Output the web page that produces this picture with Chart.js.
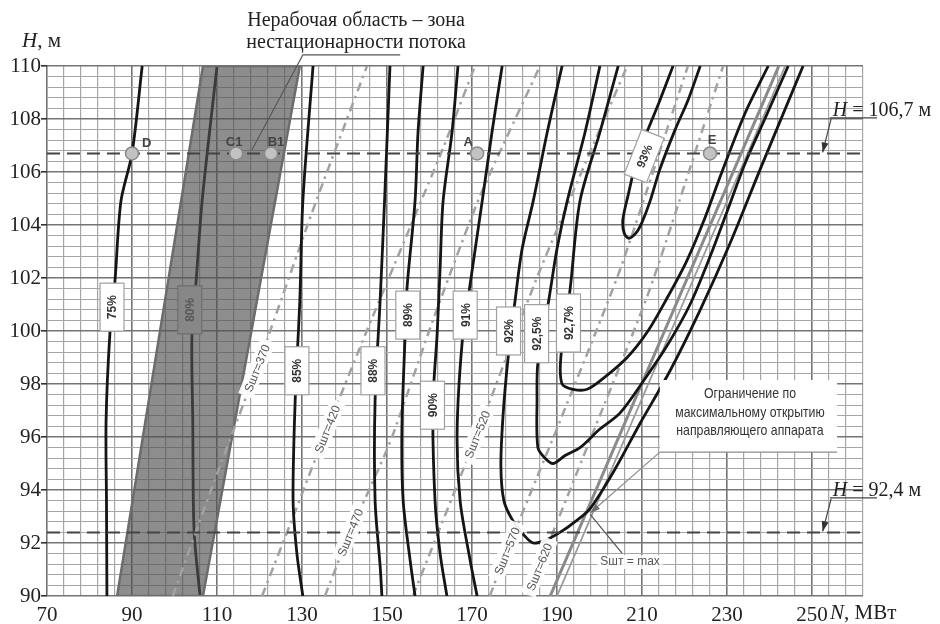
<!DOCTYPE html>
<html>
<head>
<meta charset="utf-8">
<script src="https://cdn.jsdelivr.net/npm/chart.js@4.4.1/dist/chart.umd.min.js"></script>
<style>
  html, body { margin: 0; padding: 0; background: #fff; }
</style>
</head>
<body>
<canvas id="chart" width="940" height="624"></canvas>
<script>
// axes
const xMin = 70, xMax = 262, xStep = 4, xLabelEvery = 20, xLastLabel = 250;
const yMin = 90, yMax = 110, yStep = 0.4, yLabelEvery = 2;

// efficiency contours [N, H]
const eff75 = [[92.4,110],[90.0,106.7],[87.4,104.9],[86.0,101.9],[84.8,99.9],[83.9,96.6],[84.0,93.5],[84.1,90]];
const eff80 = [[110.0,110],[106.5,104.9],[105.1,101.9],[104.1,99.8],[104.3,96.6],[104.6,92.5],[106.0,90]];
const eff85 = [[132.6,110],[130.2,104.9],[129.5,101.2],[128.4,97.4],[127.9,93.6],[128.8,91.6],[130.2,90]];
const eff88 = [[150.7,110],[149.5,105.2],[148.4,101.2],[147.2,97.4],[147.2,93.6],[148.4,91.1],[148.8,90]];
const eff89 = [[158.5,110],[157.3,107.5],[156.6,104.9],[154.7,101.6],[154.2,99.6],[153.5,96.2],[153.8,93.6],[155.4,91.4],[156.6,90]];
const eff90 = [[166.7,110],[165.3,107.5],[163.2,104.9],[162.5,102.4],[161.8,99.9],[160.8,97.2],[161.3,93.6],[162.5,91.6],[164.1,90]];
const eff91 = [[177.1,110],[174.7,107.5],[172.4,104.9],[169.5,101.7],[167.7,99.6],[166.5,96.2],[167.2,93.6],[169.5,91.4],[171.2,90]];
const eff92 = [[191.2,110],[187.7,107.5],[184.4,104.9],[181.8,103.1],[180.1,101.1],[178.5,99.0],[177.3,96.8],[176.8,94.9],[177.5,93.6],[179.4,92.9],[182.2,92.3],[184.4,92.0],[187.2,92.1],[190.7,92.4],[194.2,92.8],[197.8,93.3],[203.7,94.8],[209.5,96.5],[216.6,98.5],[223.7,100.8],[230.7,103.3],[237.8,106.1],[247.9,110]];
const eff925 = [[200.1,110],[196.6,107.5],[192.4,104.9],[190.0,103.1],[188.1,101.2],[185.5,98.8],[185.3,97.4],[185.5,95.6],[187.2,95.2],[189.1,95.0],[191.9,95.3],[195.4,95.6],[200.1,96.3],[204.8,96.9],[210.7,98.2],[216.1,99.5],[221.3,101.0],[226.0,102.8],[230.0,104.5],[234.2,106.3],[238.9,108.0],[244.4,110]];
const eff927 = [[204.4,110],[200.1,107.5],[195.4,104.9],[193.1,101.6],[190.9,99.0],[191.2,98.0],[193.8,97.8],[197.1,97.8],[200.8,98.2],[206.5,99.0],[211.4,100.0],[216.1,101.3],[220.4,102.6],[224.4,104.1],[228.8,106.0],[234.2,108.2],[239.7,110]];
const eff93 = [[217.3,110],[214.2,108.7],[211.4,107.6],[208.8,106.5],[206.7,105.1],[205.5,104.2],[205.8,103.7],[206.9,103.5],[208.6,103.7],[210.0,104.1],[211.9,104.9],[214.2,106.1],[217.8,107.6],[220.8,108.7],[223.7,110]];

// guide vane opening lines Sшт
const s370 = [[99.6,90],[109.5,94.4],[119.4,98.6],[133.1,104.8],[145.3,110]];
const s420 = [[120.6,90],[127.2,92.7],[135.9,96.3],[146.0,100.3],[155.4,103.9],[163.2,106.9],[170.7,110]];
const s470 = [[135.4,90],[141.3,92.4],[150.7,95.8],[160.8,100.4],[171.9,105.1],[186.0,110]];
const s520 = [[156.1,90],[171.2,96.1],[186.0,102.3],[206.5,110]];
const s570 = [[174.2,90],[178.2,91.7],[190.7,96.6],[204.8,102.3],[220.8,110]];
const s620 = [[183.2,90],[185.8,91.1],[197.8,95.9],[211.9,101.6],[229.1,110]];

// max opening limit lines
const limitA = [[188.4,90],[242.2,110]];
const limitB = [[190.0,90],[243.7,110]];

// non-working zone
const zone = [[86.5,90],[106.7,110],[129.5,110],[106.7,90],[86.5,90]];

// heads
const headLevels = [106.7, 92.4];

// operating points
const pointNames = ['D','C1','B1','A','E'];
const pointN = [90.0,114.5,122.7,171.2,226.0];
const pointH = [106.7,106.7,106.7,106.7,106.7];

// labels
const effNames = ['75%','80%','85%','88%','89%','90%','91%','92%','92,5%','92,7%','93%'];
const effLabelN = [85.3,103.6,128.8,146.7,154.9,160.7,168.4,178.6,185.2,192.7,210.5];
const effLabelH = [100.9,100.8,98.5,98.5,100.6,97.2,100.6,100.0,99.9,100.3,106.6];
const sNames = ['Sшт=370','Sшт=420','Sшт=470','Sшт=520','Sшт=570','Sшт=620'];
const sLabelN = [119.4,135.9,141.3,171.2,178.2,185.8];
const sLabelH = [98.6,96.3,92.4,96.1,91.7,91.1];

const pts = a => a.map(p => ({ x: p[0], y: p[1] }));
function line(data, color, width, dash, tension) {
  return { data: pts(data), showLine: true, borderColor: color, borderWidth: width,
           borderDash: dash || [], pointRadius: 0, pointHoverRadius: 0,
           tension: tension === undefined ? 0.3 : tension, fill: false };
}

const BLACK = '#151515', DASHDOT = [9, 5, 2.5, 5], SGREY = '#a2a2a2';
const datasets = [
  { data: pointN.map((n, i) => ({ x: n, y: pointH[i] })), showLine: false, pointRadius: 6.5,
    pointBackgroundColor: '#c2c2c2', pointBorderColor: '#8a8a8a', pointBorderWidth: 1.5 },
  line([[xMin, headLevels[0]], [xMax, headLevels[0]]], '#444', 2, [13, 7], 0),
  line([[xMin, headLevels[1]], [xMax, headLevels[1]]], '#444', 2, [13, 7], 0),
  line(eff75, BLACK, 2.8), line(eff85, BLACK, 2.8), line(eff88, BLACK, 2.8),
  line(eff89, BLACK, 2.8), line(eff90, BLACK, 2.8), line(eff91, BLACK, 2.8),
  line(eff92, BLACK, 2.8), line(eff925, BLACK, 2.8), line(eff927, BLACK, 2.8),
  line(eff93, BLACK, 2.8),
  line(limitA, '#8a8a8a', 3, [], 0), line(limitB, '#9a9a9a', 1.8, [], 0),
  line(s370, SGREY, 2.5, DASHDOT, 0.2), line(s420, SGREY, 2.5, DASHDOT, 0.2),
  line(s470, SGREY, 2.5, DASHDOT, 0.2), line(s520, SGREY, 2.5, DASHDOT, 0.2),
  line(s570, SGREY, 2.5, DASHDOT, 0.2), line(s620, SGREY, 2.5, DASHDOT, 0.2),
  Object.assign(line(zone, '#6c6c6c', 2.5, [], 0), { fill: 'shape', backgroundColor: 'rgba(80,80,80,0.65)' }),
  line(eff80, BLACK, 2.8)
];

const isMajorX = v => (v - xMin) % xLabelEvery === 0;
const isMajorY = v => Math.abs(v / yLabelEvery - Math.round(v / yLabelEvery)) < 1e-6;

function arrow(ctx, x1, y1, x2, y2) {
  ctx.beginPath(); ctx.moveTo(x1, y1); ctx.lineTo(x2, y2); ctx.stroke();
  const a = Math.atan2(y2 - y1, x2 - x1), L = 10, W = 3.5;
  ctx.beginPath();
  ctx.moveTo(x2, y2);
  ctx.lineTo(x2 - L * Math.cos(a) + W * Math.sin(a), y2 - L * Math.sin(a) - W * Math.cos(a));
  ctx.lineTo(x2 - L * Math.cos(a) - W * Math.sin(a), y2 - L * Math.sin(a) + W * Math.cos(a));
  ctx.closePath(); ctx.fill();
}
function hText(ctx, x, y, rest, size) {
  ctx.font = 'italic ' + size + "px 'Liberation Serif', serif";
  ctx.fillText('H', x, y);
  const w = ctx.measureText('H').width;
  ctx.font = size + "px 'Liberation Serif', serif";
  ctx.fillText(rest, x + w, y);
}

const decor = {
  id: 'decor',
  afterDatasetsDraw(chart) {
    const ctx = chart.ctx, xs = chart.scales.x, ys = chart.scales.y;
    const X = v => xs.getPixelForValue(v), Y = v => ys.getPixelForValue(v);
    ctx.save();
    ctx.textAlign = 'center'; ctx.textBaseline = 'middle';

    // Sшт labels
    sNames.forEach((t, i) => {
      ctx.save();
      ctx.translate(X(sLabelN[i]), Y(sLabelH[i]));
      ctx.rotate(-68 * Math.PI / 180);
      ctx.font = "12px 'Liberation Sans', sans-serif";
      const w = ctx.measureText(t).width + 10;
      ctx.fillStyle = 'rgba(255,255,255,0.93)';
      ctx.fillRect(-w / 2, -8, w, 16);
      ctx.fillStyle = '#555';
      ctx.fillText(t, 0, 1);
      ctx.restore();
    });

    // efficiency labels
    effNames.forEach((t, i) => {
      const grey = t === '80%';
      ctx.save();
      ctx.translate(X(effLabelN[i]), Y(effLabelH[i]));
      ctx.rotate(t === '93%' ? -68.6 * Math.PI / 180 : -Math.PI / 2);
      ctx.font = "bold 12px 'Liberation Sans', sans-serif";
      const len = ctx.measureText(t).width + 24, th = 24;
      ctx.fillStyle = grey ? '#878787' : '#fff';
      ctx.fillRect(-len / 2, -th / 2, len, th);
      ctx.strokeStyle = grey ? '#6f6f6f' : '#a0a0a0'; ctx.lineWidth = 1.2;
      ctx.strokeRect(-len / 2, -th / 2, len, th);
      ctx.fillStyle = grey ? '#575757' : '#333';
      ctx.fillText(t, 0, 1);
      ctx.restore();
    });

    // point labels
    const off = [[10, -10, 'left'], [-2, -11, 'center'], [5, -11, 'center'], [-9, -11, 'center'], [2, -13, 'center']];
    ctx.font = "bold 13px 'Liberation Sans', sans-serif";
    ctx.fillStyle = '#444';
    pointNames.forEach((t, i) => {
      ctx.textAlign = off[i][2];
      ctx.fillText(t, X(pointN[i]) + off[i][0], Y(pointH[i]) + off[i][1]);
    });
    ctx.textAlign = 'center';

    // limit box
    const bx1 = X(214.2), bx2 = X(255.9), by1 = Y(98.15), by2 = Y(95.43);
    ctx.fillStyle = '#fff';
    ctx.fillRect(bx1, by1, bx2 - bx1, by2 - by1);
    ctx.fillStyle = '#333';
    ctx.font = "15px 'Liberation Sans', sans-serif";
    const boxLines = ['Ограничение по', 'максимальному открытию', 'направляющего аппарата'];
    boxLines.forEach((t, i) => {
      ctx.save();
      ctx.translate(X(235.4), Y(97.62) + i * 18.5);
      ctx.scale(0.82, 1);
      ctx.fillText(t, 0, 0);
      ctx.restore();
    });
    ctx.strokeStyle = '#8c8c8c'; ctx.fillStyle = '#6c6c6c'; ctx.lineWidth = 1.2;
    ctx.beginPath(); ctx.moveTo(bx1, by2); ctx.lineTo(bx2, by2); ctx.stroke();
    arrow(ctx, bx1, by2, X(197.8), Y(93.13));

    // Sшт = max
    ctx.strokeStyle = '#555'; ctx.lineWidth = 1.2;
    ctx.beginPath(); ctx.moveTo(X(197.8), Y(93.08)); ctx.lineTo(X(205.3), Y(91.62)); ctx.stroke();
    ctx.font = "12px 'Liberation Sans', sans-serif";
    const mw = ctx.measureText('Sшт = max').width;
    ctx.fillStyle = 'rgba(255,255,255,0.85)';
    ctx.fillRect(X(207.2) - mw / 2 - 3, Y(91.28) - 7, mw + 6, 14);
    ctx.fillStyle = '#555';
    ctx.fillText('Sшт = max', X(207.2), Y(91.28));

    // head level callouts
    ctx.strokeStyle = '#444'; ctx.fillStyle = '#333'; ctx.lineWidth = 1.2;
    [[108.04, 106.7, 108.11, '106,7'], [93.7, 92.4, 93.77, '92,4']].forEach(c => {
      ctx.beginPath(); ctx.moveTo(X(254.2), Y(c[0])); ctx.lineTo(X(265.3), Y(c[0])); ctx.stroke();
      arrow(ctx, X(254.5), Y(c[0]) + 1, X(252.5), Y(c[1]) - 1);
      ctx.textAlign = 'left'; ctx.textBaseline = 'alphabetic';
      ctx.fillStyle = '#222';
      hText(ctx, X(254.9), Y(c[2]), ' = ' + c[3] + ' м', 20);
      ctx.fillStyle = '#333';
    });

    // non-working zone callout
    ctx.strokeStyle = '#555'; ctx.lineWidth = 1.1;
    ctx.beginPath();
    ctx.moveTo(X(153.1), Y(110.42)); ctx.lineTo(X(130.2), Y(110.42));
    ctx.lineTo(X(118.2), Y(106.83)); ctx.stroke();
    ctx.fillStyle = '#222';
    ctx.textAlign = 'center'; ctx.textBaseline = 'alphabetic';
    ctx.font = "20px 'Liberation Serif', serif";
    ctx.fillText('Нерабочая область – зона', 356, 26);
    ctx.fillText('нестационарности потока', 356, 48);

    // axis titles
    ctx.textAlign = 'left';
    hText(ctx, 22, 47, ', м', 21);
    ctx.font = "italic 21px 'Liberation Serif', serif";
    ctx.fillText('N', 830, 619);
    const nw = ctx.measureText('N').width;
    ctx.font = "21px 'Liberation Serif', serif";
    ctx.fillText(', МВт', 830 + nw, 619);
    ctx.restore();
  }
};

new Chart(document.getElementById('chart'), {
  type: 'scatter',
  data: { datasets: datasets },
  options: {
    responsive: false,
    devicePixelRatio: 1,
    animation: false,
    layout: { padding: { left: 0, right: 77, top: 66, bottom: 0 } },
    plugins: { legend: { display: false }, tooltip: { enabled: false } },
    scales: {
      x: {
        type: 'linear', min: xMin, max: xMax,
        afterBuildTicks: s => { s.ticks = []; for (let v = xMin; v <= xMax; v += xStep) s.ticks.push({ value: v }); },
        afterFit: s => { s.height = 28; },
        border: { display: false },
        grid: {
          color: c => c.tick && isMajorX(c.tick.value) ? '#747474' : '#a6a6a6',
          lineWidth: c => c.tick && isMajorX(c.tick.value) ? 1.6 : 1.2,
          tickLength: 4, tickColor: 'transparent'
        },
        ticks: {
          autoSkip: false, maxRotation: 0, padding: 3, color: '#222',
          font: { family: "'Liberation Serif', serif", size: 21 },
          callback: v => (isMajorX(v) && v <= xLastLabel) ? String(v) : ''
        }
      },
      y: {
        type: 'linear', min: yMin, max: yMax,
        afterBuildTicks: s => {
          s.ticks = [];
          const n = Math.round((yMax - yMin) / yStep);
          for (let i = 0; i <= n; i++) s.ticks.push({ value: Math.round((yMin + yStep * i) * 10) / 10 });
        },
        afterFit: s => { s.width = 47; },
        border: { display: false },
        grid: {
          color: c => c.tick && isMajorY(c.tick.value) ? '#747474' : '#a6a6a6',
          lineWidth: c => c.tick && isMajorY(c.tick.value) ? 1.6 : 1.1,
          tickLength: 6,
          tickColor: c => c.tick && isMajorY(c.tick.value) ? '#333' : 'transparent'
        },
        ticks: {
          autoSkip: false, padding: 0, color: '#222',
          font: { family: "'Liberation Serif', serif", size: 21 },
          callback: v => isMajorY(v) ? String(v) : ''
        }
      }
    }
  },
  plugins: [decor]
});
</script>
</body>
</html>
